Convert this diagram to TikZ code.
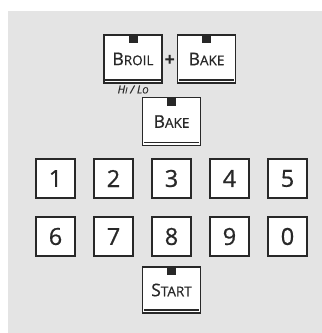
\documentclass[tikz,border=0pt]{standalone}
\usepackage{fontspec}
\setmainfont{Open Sans}
\newfontfamily\keyfont{Open Sans}[FakeBold=0.7]
\definecolor{bgcol}{RGB}{228,228,228}
\definecolor{edge}{RGB}{40,40,40}
\newcommand{\bigc}[1]{{\fontsize{17.5}{18}\selectfont #1}}
\newcommand{\smc}[1]{{\fontsize{13.5}{14}\selectfont #1}}
\begin{document}
\begin{tikzpicture}[x=1pt,y=-1pt,
  fkey/.style={draw=edge,fill=white,line width=1.1pt,minimum width=58pt,minimum height=48pt,inner sep=0pt,font=\keyfont,text=edge},
  dkey/.style={draw=edge,fill=white,line width=1.3pt,minimum width=39pt,minimum height=39pt,inner sep=0pt,font=\keyfont\fontsize{23.5}{24}\selectfont,text=edge},
  lamp/.style={fill=edge},
  bar/.style={draw=edge,line width=1.5pt}]
\useasboundingbox (0,0) rectangle (322,333);
\fill[bgcol] (8,11) rectangle (322,333);
% function keys
\node[fkey] (broil) at (133,59) {\bigc{B}\smc{ROIL}};
\node[fkey] (bakeA) at (206.5,59) {\bigc{B}\smc{AKE}};
\node[fkey] (bakeB) at (171.5,121.5) {\bigc{B}\smc{AKE}};
\node[fkey,minimum height=46pt] (start) at (171.5,290) {\bigc{S}\smc{TART}};
\node[text=edge] (plus) at (169.5,61) {\fontsize{19}{19}\selectfont\bfseries\itshape +};
\node[text=edge] (hilo) at (133,89.5) {\keyfont\itshape\fontsize{11}{11}\selectfont H{\fontsize{8.5}{9}\selectfont I} / L{\fontsize{8.5}{9}\selectfont O}};
\foreach \k in {broil,bakeA,bakeB,start}{
  \fill[lamp] ([xshift=-4.5pt]\k.north) rectangle ++(9,9);
  \draw[bar] ([xshift=1.8pt,yshift=3.5pt]\k.south west) -- ([xshift=-1.8pt,yshift=3.5pt]\k.south east);
}
% digit keys
\node[dkey] (k1) at (55.5,178.5) {1};
\node[dkey] (k2) at (113.5,178.5) {2};
\node[dkey] (k3) at (171.5,178.5) {3};
\node[dkey] (k4) at (229.5,178.5) {4};
\node[dkey] (k5) at (287.5,178.5) {5};
\node[dkey] (k6) at (55.5,236.5) {6};
\node[dkey] (k7) at (113.5,236.5) {7};
\node[dkey] (k8) at (171.5,236.5) {8};
\node[dkey] (k9) at (229.5,236.5) {9};
\node[dkey] (k0) at (287.5,236.5) {0};
\end{tikzpicture}
\end{document}
